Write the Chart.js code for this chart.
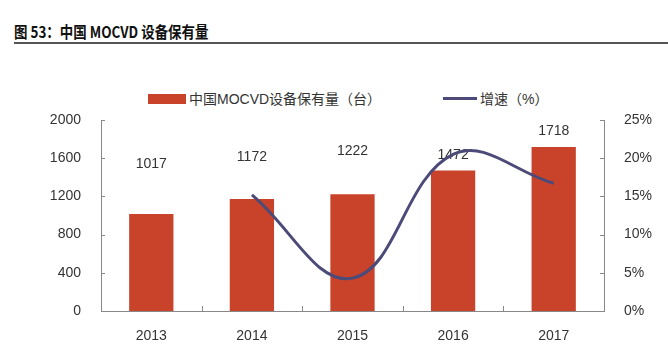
<!DOCTYPE html>
<html>
<head>
<meta charset="utf-8">
<script src="https://cdn.jsdelivr.net/npm/chart.js@4"></script>
<style>
  body { margin: 0; background: #fff; font-family: "Liberation Sans", Arial, "Noto Sans CJK SC", sans-serif; }
  #wrap { position: relative; width: 668px; height: 351px; overflow: hidden; }
  #title { position: absolute; left: 14px; top: 19px; font: bold 16px "Noto Sans CJK SC", sans-serif; color: #111; transform: scaleX(0.84); transform-origin: left center; white-space: nowrap; }
  #rule { position: absolute; left: 14px; top: 42px; width: 654px; height: 2px; background: #555; }
  .lg { position: absolute; top: 90px; font-size: 14px; color: #333; line-height: 18px; font-family: "Liberation Sans", "Noto Sans CJK SC", sans-serif; }
  .sw-bar { position: absolute; left: 148px; top: 94px; width: 38px; height: 10px; background: #c8432a; }
  .sw-line { position: absolute; left: 443px; top: 97px; width: 34px; height: 3px; background: #4b4a78; }
  canvas { position: absolute; left: 0; top: 0; }
</style>
</head>
<body>
<div id="wrap">
  <div id="title">图 53：中国 MOCVD 设备保有量</div>
  <div id="rule"></div>
  <div class="sw-bar"></div>
  <div class="lg" style="left:189px">中国MOCVD设备保有量（台）</div>
  <div class="sw-line"></div>
  <div class="lg" style="left:480px">增速（%）</div>
  <canvas id="chart" width="668" height="351"></canvas>
</div>
<script>
// Data
const years = ['2013', '2014', '2015', '2016', '2017'];
const units = [1017, 1172, 1222, 1472, 1718];
const growth = [null, 15.2, 4.3, 20.5, 16.7];
const leftTicks = [0, 400, 800, 1200, 1600, 2000];
const rightTicks = [0, 5, 10, 15, 20, 25];

// vertical gap between bar top and its value label
const labelGap = [50, 42, 43, 15, 16];

const barColor = '#c8432a';
const lineColor = '#4b4a78';
const axisColor = '#888';
const textColor = '#333';

// value labels, drawn right after the bars so the line sits on top
const barLabels = {
  id: 'barLabels',
  afterDatasetDraw(chart, args) {
    if (args.index !== 0) return;
    const ctx = chart.ctx;
    ctx.save();
    ctx.font = '14px "Liberation Sans", Arial';
    ctx.fillStyle = textColor;
    ctx.textAlign = 'center';
    ctx.textBaseline = 'middle';
    args.meta.data.forEach((bar, i) => {
      ctx.fillText(String(units[i]), bar.x, bar.y - labelGap[i]);
    });
    ctx.restore();
  }
};

// short tick marks pointing into the plot
const innerTicks = {
  id: 'innerTicks',
  afterDraw(chart) {
    const ctx = chart.ctx;
    const { y, y1, x } = chart.scales;
    const area = chart.chartArea;
    ctx.save();
    ctx.strokeStyle = axisColor;
    ctx.lineWidth = 1;
    ctx.beginPath();
    leftTicks.forEach((v) => {
      const py = Math.round(y.getPixelForValue(v)) + 0.5;
      ctx.moveTo(area.left, py);
      ctx.lineTo(area.left + 4, py);
    });
    rightTicks.forEach((v) => {
      const py = Math.round(y1.getPixelForValue(v)) + 0.5;
      ctx.moveTo(area.right, py);
      ctx.lineTo(area.right - 4, py);
    });
    for (let i = 1; i < years.length; i++) {
      const px = Math.round((x.getPixelForValue(i - 1) + x.getPixelForValue(i)) / 2) + 0.5;
      ctx.moveTo(px, area.bottom);
      ctx.lineTo(px, area.bottom - 5);
    }
    ctx.stroke();
    ctx.restore();
  }
};

const tickFont = { family: '"Liberation Sans", Arial', size: 14 };

new Chart(document.getElementById('chart'), {
  data: {
    labels: years,
    datasets: [
      {
        type: 'bar',
        label: '中国MOCVD设备保有量（台）',
        data: units,
        backgroundColor: barColor,
        categoryPercentage: 1,
        barPercentage: 0.44,
        yAxisID: 'y',
        order: 2
      },
      {
        type: 'line',
        label: '增速（%）',
        data: growth,
        borderColor: lineColor,
        borderWidth: 3,
        pointRadius: 0,
        tension: 0.4,
        fill: false,
        yAxisID: 'y1',
        order: 1
      }
    ]
  },
  options: {
    responsive: false,
    animation: false,
    layout: { padding: { top: 120, bottom: 0, left: 0, right: 0 } },
    plugins: {
      legend: { display: false },
      tooltip: { enabled: false }
    },
    scales: {
      x: {
        grid: { display: false },
        border: { display: true, color: axisColor },
        ticks: { color: textColor, font: tickFont, padding: 9 },
        afterFit(scale) { scale.height = 40; }
      },
      y: {
        position: 'left',
        min: 0,
        max: 2000,
        afterBuildTicks(scale) { scale.ticks = leftTicks.map((v) => ({ value: v })); },
        grid: { display: false },
        border: { display: true, color: axisColor },
        ticks: { color: textColor, font: tickFont, padding: 12, callback: (v) => String(v) },
        afterFit(scale) { scale.width = 101; }
      },
      y1: {
        position: 'right',
        min: 0,
        max: 25,
        afterBuildTicks(scale) { scale.ticks = rightTicks.map((v) => ({ value: v })); },
        grid: { display: false },
        border: { display: true, color: axisColor },
        ticks: {
          color: textColor,
          font: tickFont,
          padding: 12,
          callback: (v) => v + '%'
        },
        afterFit(scale) { scale.width = 64; }
      }
    }
  },
  plugins: [barLabels, innerTicks]
});
</script>
</body>
</html>
